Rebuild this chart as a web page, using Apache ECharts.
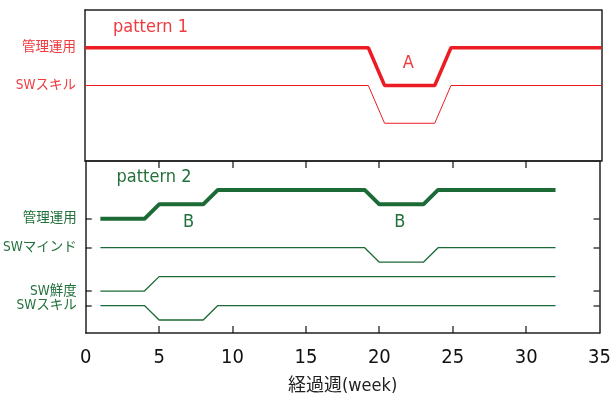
<!DOCTYPE html>
<html><head><meta charset="utf-8">
<script src="https://cdn.jsdelivr.net/npm/echarts@6/dist/echarts.min.js"></script>
<style>html,body{margin:0;padding:0;background:#fff}#c{width:614px;height:402px}</style>
</head><body><div id="c"></div>
<script>
// ---- data ----
const weekTicks = [0, 5, 10, 15, 20, 25, 30, 35];
const xName = '経過週(week)';

// pattern 1 (top panel)
const p1LabelValues = [0, 1];
const p1LabelTexts = ['SWスキル', '管理運用'];
const p1Weeks = [0, 19.2, 20.3, 23.7, 24.8, 35];
const p1Mgmt = [1, 1, 0, 0, 1, 1];
const p1Skill = [0, 0, -1, -1, 0, 0];

// pattern 2 (bottom panel)
const p2LabelValues = [0, 1, 4, 6];
const p2LabelTexts = ['SWスキル', 'SW鮮度', 'SWマインド', '管理運用'];
const p2MgmtWeeks = [1, 4, 5, 8, 9, 19, 20, 23, 24, 32];
const p2Mgmt = [6, 6, 7, 7, 8, 8, 7, 7, 8, 8];
const p2MindWeeks = [1, 19, 20, 23, 24, 32];
const p2Mind = [4, 4, 3, 3, 4, 4];
const p2FreshWeeks = [1, 4, 5, 32];
const p2Fresh = [1, 1, 2, 2];
const p2SkillWeeks = [1, 4, 5, 8, 9, 32];
const p2Skill = [0, 0, -1, -1, 0, 0];

// annotations
const annotations = [
  { text: 'pattern 1', panel: 0, x: 1.9, y: 1.55, color: 'red' },
  { text: 'A', panel: 0, x: 21.9, y: 0.6, color: 'red' },
  { text: 'pattern 2', panel: 1, x: 2.1, y: 8.9, color: 'green' },
  { text: 'B', panel: 1, x: 7.0, y: 5.75, color: 'green' },
  { text: 'B', panel: 1, x: 21.4, y: 5.75, color: 'green' }
];

// ---- styling ----
const RED = '#ec1c24', RED_TXT = '#ef3a3e';
const GREEN = '#1c6a36', GREEN_TXT = '#22703c';
const FRAME = '#222';
const FONT = "'DejaVu Sans Condensed', 'Liberation Sans Narrow', 'Arial Narrow', 'Noto Sans CJK JP', sans-serif";

const zip = (xs, ys) => xs.map((x, i) => [x, ys[i]]);
const labelMap = (vals, texts) => { const m = {}; vals.forEach((v, i) => m[v] = texts[i]); return m; };
const p1Map = labelMap(p1LabelValues, p1LabelTexts);
const p2Map = labelMap(p2LabelValues, p2LabelTexts);

const chart = echarts.init(document.getElementById('c'));
const L = 85, R = 614 - 601.5;
const X2MIN = 0, X2MAX = 35, Y2MIN = -1.9, Y2MAX = 10;
const frameLine = () => ({ show: true, onZero: false, lineStyle: { color: FRAME, width: 1.5 } });
const noTick = { show: false };
const noLabel = { show: false };
const noSplit = { show: false };
const option = {
  animation: false,
  grid: [
    { left: L, right: R, top: 10, height: 151 },
    { left: L, right: R, top: 161, height: 172 }
  ],
  xAxis: [
    { gridIndex: 0, type: 'value', min: 0, max: 35, interval: 5, position: 'bottom',
      axisLine: frameLine(), axisTick: noTick, axisLabel: noLabel, splitLine: noSplit },
    { gridIndex: 1, type: 'value', min: X2MIN, max: X2MAX, interval: 5, position: 'bottom',
      axisLine: frameLine(), axisTick: noTick,
      axisLabel: { show: true, customValues: weekTicks, fontFamily: FONT, fontSize: 20, color: '#111', margin: 15 },
      splitLine: noSplit,
      name: xName, nameLocation: 'middle', nameGap: 44,
      nameTextStyle: { fontFamily: FONT, fontSize: 18, color: '#222' } },
    { gridIndex: 1, type: 'value', min: X2MIN, max: X2MAX, interval: 5, position: 'top',
      axisLine: frameLine(), axisTick: noTick, axisLabel: noLabel, splitLine: noSplit },
    { gridIndex: 0, type: 'value', min: 0, max: 35, interval: 5, position: 'top',
      axisLine: frameLine(), axisTick: noTick, axisLabel: noLabel, splitLine: noSplit }
  ],
  yAxis: [
    { gridIndex: 0, type: 'value', min: -2, max: 2, position: 'left',
      axisLine: frameLine(), axisTick: noTick, splitLine: noSplit,
      axisLabel: { customValues: p1LabelValues, formatter: v => p1Map[v] || '', color: RED_TXT,
                   fontFamily: FONT, fontSize: 13.5, margin: 9 } },
    { gridIndex: 1, type: 'value', min: Y2MIN, max: Y2MAX, position: 'left',
      axisLine: frameLine(), axisTick: noTick, splitLine: noSplit,
      axisLabel: { customValues: p2LabelValues, formatter: v => p2Map[v] || '', color: GREEN_TXT,
                   fontFamily: FONT, fontSize: 13.5, margin: 9 } },
    { gridIndex: 1, type: 'value', min: Y2MIN, max: Y2MAX, position: 'right',
      axisLine: frameLine(), axisTick: noTick, splitLine: noSplit, axisLabel: noLabel },
    { gridIndex: 0, type: 'value', min: -2, max: 2, position: 'right',
      axisLine: frameLine(), axisTick: noTick, splitLine: noSplit, axisLabel: noLabel }
  ],
  series: [
    { type: 'line', xAxisIndex: 0, yAxisIndex: 0, data: zip(p1Weeks, p1Mgmt), symbol: 'none',
      lineStyle: { color: RED, width: 3.5 }, z: 3 },
    { type: 'line', xAxisIndex: 0, yAxisIndex: 0, data: zip(p1Weeks, p1Skill), symbol: 'none',
      lineStyle: { color: RED, width: 1 } },
    { type: 'line', xAxisIndex: 1, yAxisIndex: 1, data: zip(p2MgmtWeeks, p2Mgmt), symbol: 'none',
      lineStyle: { color: GREEN, width: 4 } },
    { type: 'line', xAxisIndex: 1, yAxisIndex: 1, data: zip(p2MindWeeks, p2Mind), symbol: 'none',
      lineStyle: { color: GREEN, width: 1.3 } },
    { type: 'line', xAxisIndex: 1, yAxisIndex: 1, data: zip(p2FreshWeeks, p2Fresh), symbol: 'none',
      lineStyle: { color: GREEN, width: 1.3 } },
    { type: 'line', xAxisIndex: 1, yAxisIndex: 1, data: zip(p2SkillWeeks, p2Skill), symbol: 'none',
      lineStyle: { color: GREEN, width: 1.3 } }
  ]
};
chart.setOption(option);

// positions derived through the library's own coordinate conversion
const g = [];
annotations.forEach(a => {
  const p = chart.convertToPixel({ xAxisIndex: a.panel, yAxisIndex: a.panel }, [a.x, a.y]);
  g.push({ type: 'text', x: p[0], y: p[1], z: 10,
    style: { text: a.text, fill: a.color === 'red' ? RED_TXT : GREEN_TXT, font: '18px ' + FONT,
             textAlign: a.text.length > 1 ? 'left' : 'center', textVerticalAlign: 'middle' } });
});
// inward ticks of the bottom panel: week ticks on top & bottom edges, label levels on left & right edges
const xPix = w => chart.convertToPixel({ xAxisIndex: 1 }, w);
const yPix = v => chart.convertToPixel({ yAxisIndex: 1 }, v);
const yBottom = yPix(Y2MIN), yTop = yPix(Y2MAX);
const xLeft = xPix(X2MIN), xRight = xPix(X2MAX);
const TICK = '#111';
weekTicks.slice(1, -1).forEach(w => {
  const x = Math.round(xPix(w));
  g.push({ type: 'rect', z: 20, shape: { x: x - 0.6, y: yBottom - 7, width: 1.2, height: 7 }, style: { fill: TICK } });
  g.push({ type: 'rect', z: 20, shape: { x: x - 0.6, y: yTop, width: 1.2, height: 7 }, style: { fill: TICK } });
});
p2LabelValues.forEach(v => {
  const y = Math.round(yPix(v));
  g.push({ type: 'rect', z: 20, shape: { x: xLeft, y: y - 0.6, width: 6, height: 1.2 }, style: { fill: TICK } });
  g.push({ type: 'rect', z: 20, shape: { x: xRight - 6, y: y - 0.6, width: 6, height: 1.2 }, style: { fill: TICK } });
});
chart.setOption({ graphic: g });
</script></body></html>
